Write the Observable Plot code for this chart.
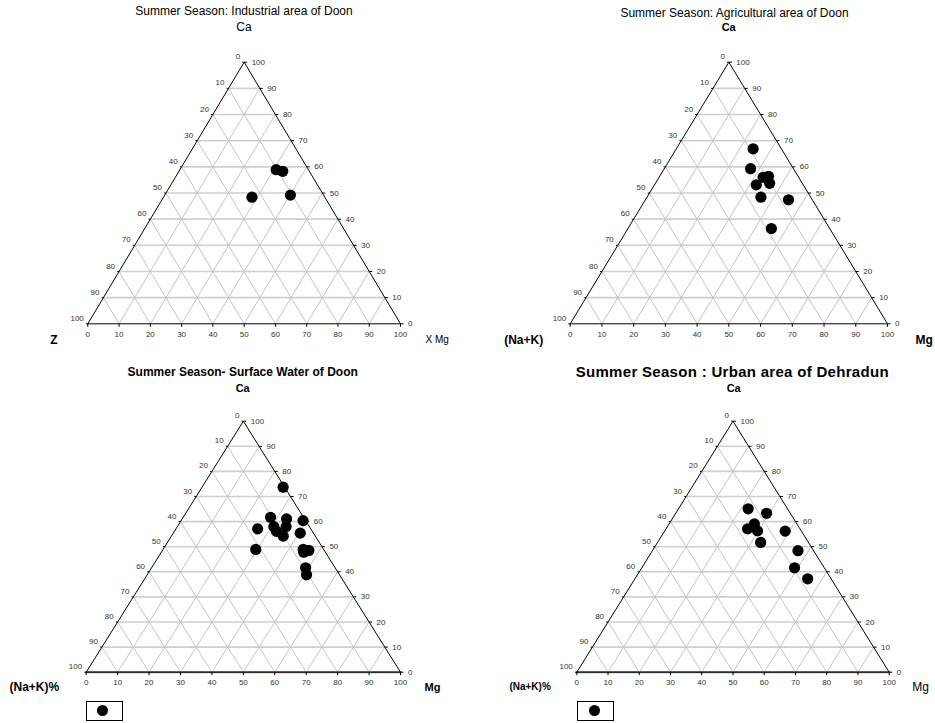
<!DOCTYPE html>
<html><head><meta charset="utf-8">
<script src="https://cdn.jsdelivr.net/npm/d3@7"></script>
<script src="https://cdn.jsdelivr.net/npm/@observablehq/plot@0.6"></script>
<style>
body{margin:0;background:#fff;font-family:"Liberation Sans",Arial,sans-serif;}
#root{position:relative;width:935px;height:723px;overflow:hidden;background:#fff}
.t{position:absolute;white-space:nowrap;transform:translate(-50%,-50%);color:#000;line-height:1}
.panel{position:absolute}
.legend{position:absolute;border:1px solid #000;box-sizing:border-box;width:37px;height:20px;background:#fff}
.legend span{position:absolute;width:11px;height:11px;border-radius:50%;background:#000;top:3.5px}
</style></head>
<body><div id="root"></div>
<script>
// ---- data ----
const gridValues = [10, 20, 30, 40, 50, 60, 70, 80, 90];
const tickValues = [0, 10, 20, 30, 40, 50, 60, 70, 80, 90, 100];

const industrialCa = [58.9, 58.3, 48.4, 49.2];
const industrialMg = [30.8, 33.2, 28.3, 40.2];

const agriculturalCa = [66.9, 59.3, 56.0, 56.4, 53.7, 53.1, 48.4, 47.4, 36.4];
const agriculturalMg = [24.2, 27.2, 32.8, 34.3, 36.0, 32.1, 35.9, 45.1, 45.2];

const surfaceCa = [73.7, 61.7, 61.1, 60.4, 57.1, 58.0, 58.0, 56.1, 54.2, 55.4, 48.9, 48.9, 48.5, 47.8, 41.6, 38.8];
const surfaceMg = [25.8, 27.8, 33.2, 38.8, 26.0, 30.7, 34.6, 32.5, 35.6, 40.4, 29.5, 44.6, 46.6, 45.3, 49.0, 50.7];

const urbanCa = [65.1, 63.3, 59.1, 57.1, 56.3, 56.2, 51.7, 48.4, 41.6, 37.2];
const urbanMg = [22.3, 29.1, 27.3, 26.1, 29.7, 38.6, 33.0, 46.6, 48.9, 55.3];

const titles = [
  "Summer Season: Industrial area of Doon",
  "Summer Season: Agricultural area of Doon",
  "Summer Season- Surface Water of Doon",
  "Summer Season : Urban area of Dehradun"
];
const topLabels = ["Ca", "Ca", "Ca", "Ca"];
const leftLabels = ["Z", "(Na+K)", "(Na+K)%", "(Na+K)%"];
const rightLabels = ["X Mg", "Mg", "Mg", "Mg"];

// ---- layout ----
const panels = [
  {left:0, top:0, w:467, h:350, blx:87.3, brx:400, base:323.3, apex:61.7, ca:industrialCa, mg:industrialMg, thickBase:false,
   title:{x:244, y:10.5, size:12, weight:"normal", ls:0}, ca_l:{x:244, y:27, size:12, weight:"normal"},
   left_l:{dx:-34, dy:16, size:12, weight:"bold", anchor:"middle"}, right_l:{dx:25, dy:16, size:10, weight:"normal"}, legend:null},
  {left:467, top:0, w:468, h:350, blx:569.7, brx:887, base:323.3, apex:61.7, ca:agriculturalCa, mg:agriculturalMg, thickBase:false,
   title:{x:734.5, y:13, size:12, weight:"normal", ls:0}, ca_l:{x:728.7, y:27, size:11, weight:"bold"},
   left_l:{dx:-27, dy:16, size:12, weight:"bold", anchor:"end"}, right_l:{dx:28, dy:16, size:12, weight:"bold"}, legend:null},
  {left:0, top:350, w:467, h:373, blx:85.7, brx:400, base:671.7, apex:420.7, ca:surfaceCa, mg:surfaceMg, thickBase:true,
   title:{x:242.7, y:372, size:12, weight:"bold", ls:0}, ca_l:{x:242.7, y:388.3, size:11, weight:"bold"},
   left_l:{dx:-27, dy:15, size:12, weight:"bold", anchor:"end"}, right_l:{dx:24, dy:15, size:11, weight:"bold"}, legend:{x:85.7, y:700.7}},
  {left:467, top:350, w:468, h:373, blx:576.3, brx:888.7, base:671.7, apex:420.7, ca:urbanCa, mg:urbanMg, thickBase:true,
   title:{x:732.3, y:370.7, size:15, weight:"bold", ls:0.3}, ca_l:{x:733.7, y:388.3, size:11, weight:"bold"},
   left_l:{dx:-26, dy:15, size:10, weight:"bold", anchor:"end"}, right_l:{dx:23, dy:15, size:12, weight:"normal"}, legend:{x:577, y:700.7}}
];

const root = document.getElementById("root");
// ternary -> cartesian (data units): X = Mg + Ca/2, Y = Ca
const tx = (mg, ca) => mg + ca / 2;

function addText(txt, x, y, size, weight, ls) {
  const d = document.createElement("div");
  d.className = "t";
  d.textContent = txt;
  d.style.left = x + "px";
  d.style.top = y + "px";
  d.style.fontSize = size + "px";
  d.style.fontWeight = weight;
  if (ls) d.style.letterSpacing = ls + "px";
  root.appendChild(d);
}

panels.forEach((p, k) => {
  const kx = (p.brx - p.blx) / 100, ky = (p.base - p.apex) / 100;
  const tickLenX = 3 / kx, tickLenY = 3 / ky;

  const hGrid = [], dGrid = [];
  gridValues.forEach(v => {
    hGrid.push({x1: tx(0, v), y1: v, x2: tx(100 - v, v), y2: v});            // Ca constant
    dGrid.push({x1: tx(v, 0), y1: 0, x2: tx(v, 100 - v), y2: 100 - v});       // Mg constant
    dGrid.push({x1: tx(100 - v, 0), y1: 0, x2: tx(0, 100 - v), y2: 100 - v}); // Na+K constant
  });
  const corners = [{mg:0, ca:0}, {mg:100, ca:0}, {mg:0, ca:100}, {mg:0, ca:0}];
  const baseEdge = [{mg:0, ca:0}, {mg:100, ca:0}];

  const bottomTicks = tickValues.map(v => ({x1: tx(v, 0), y1: 0, x2: tx(v, 0), y2: -tickLenY}));
  const rightTicks = tickValues.map(v => ({x1: tx(100 - v, v), y1: v, x2: tx(100 - v, v) + tickLenX, y2: v}));
  const leftTicks = tickValues.map(v => ({x1: tx(0, 100 - v), y1: 100 - v, x2: tx(0, 100 - v) - tickLenX * 0.6, y2: 100 - v}));

  const idx = p.ca.map((_, i) => i);
  const tickFont = {fontSize: 8, fill: "#333"};

  const chart = Plot.plot({
    width: p.w, height: p.h,
    marginLeft: 0, marginRight: 0, marginTop: 0, marginBottom: 0,
    x: {type: "linear", domain: [0, 100], range: [p.blx - p.left, p.brx - p.left], axis: null},
    y: {type: "linear", domain: [0, 100], range: [p.base - p.top, p.apex - p.top], axis: null},
    style: {fontFamily: "'Liberation Sans', Arial, sans-serif", background: "transparent", overflow: "visible"},
    marks: [
      Plot.link(hGrid, {x1: "x1", y1: "y1", x2: "x2", y2: "y2", stroke: "#cfcfcf", strokeWidth: 1.6}),
      Plot.link(dGrid, {x1: "x1", y1: "y1", x2: "x2", y2: "y2", stroke: "#c4c4c4", strokeWidth: 1}),
      p.thickBase ? Plot.line(baseEdge, {x: d => tx(d.mg, d.ca), y: "ca", stroke: "#888", strokeWidth: 2.2}) : null,
      Plot.line(corners, {x: d => tx(d.mg, d.ca), y: "ca", stroke: "#000", strokeWidth: 1}),
      Plot.link(bottomTicks, {x1: "x1", y1: "y1", x2: "x2", y2: "y2", stroke: "#000", strokeWidth: 1}),
      Plot.link(rightTicks, {x1: "x1", y1: "y1", x2: "x2", y2: "y2", stroke: "#000", strokeWidth: 1}),
      Plot.link(leftTicks, {x1: "x1", y1: "y1", x2: "x2", y2: "y2", stroke: "#000", strokeWidth: 1}),
      Plot.text(tickValues, {x: v => tx(v, 0), y: 0, text: d => String(d), dy: 10.5, ...tickFont}),
      Plot.text(tickValues, {x: v => tx(100 - v, v), y: v => v, text: d => String(d), dx: 7.5, textAnchor: "start", ...tickFont}),
      Plot.text(tickValues, {x: v => tx(0, 100 - v), y: v => 100 - v, text: d => String(d), dx: -4, dy: -5.5, textAnchor: "end", ...tickFont}),
      Plot.text([leftLabels[k]], {x: tx(0, 0), y: 0, text: d => d, dx: p.left_l.dx, dy: p.left_l.dy,
        textAnchor: p.left_l.anchor, fontSize: p.left_l.size, fontWeight: p.left_l.weight, fill: "#000"}),
      Plot.text([rightLabels[k]], {x: tx(100, 0), y: 0, text: d => d, dx: p.right_l.dx, dy: p.right_l.dy,
        textAnchor: "start", fontSize: p.right_l.size, fontWeight: p.right_l.weight, fill: "#000"}),
      Plot.dot(idx, {x: i => tx(p.mg[i], p.ca[i]), y: i => p.ca[i], r: 5.6, fill: "#000", stroke: "none"})
    ]
  });
  const wrap = document.createElement("div");
  wrap.className = "panel";
  wrap.style.left = p.left + "px";
  wrap.style.top = p.top + "px";
  wrap.appendChild(chart);
  root.appendChild(wrap);

  addText(titles[k], p.title.x, p.title.y, p.title.size, p.title.weight, p.title.ls);
  addText(topLabels[k], p.ca_l.x, p.ca_l.y, p.ca_l.size, p.ca_l.weight, 0);

  if (p.legend) {
    const lg = document.createElement("div");
    lg.className = "legend";
    lg.style.left = p.legend.x + "px";
    lg.style.top = p.legend.y + "px";
    const s = document.createElement("span");
    s.style.left = "10.5px";
    lg.appendChild(s);
    root.appendChild(lg);
  }
});
</script>
</body></html>
